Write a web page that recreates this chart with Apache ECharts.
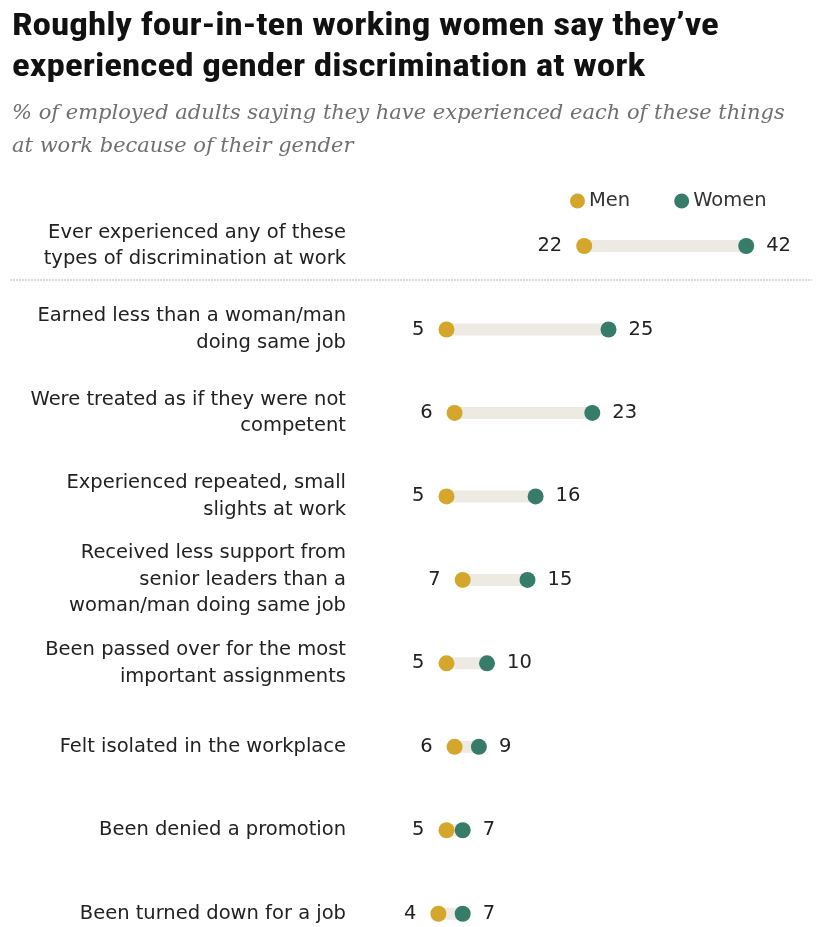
<!DOCTYPE html>
<html>
<head>
<meta charset="utf-8">
<script src="https://cdn.jsdelivr.net/npm/echarts@6/dist/echarts.min.js"></script>
<style>
  html, body { margin: 0; padding: 0; background: #ffffff; }
  #chart { width: 829px; height: 927px; }
</style>
</head>
<body>
<div id="chart"></div>
<script>
// Share of employed adults reporting each experience at work because of their gender
const categories = [
  'Ever experienced any of these\ntypes of discrimination at work',
  'Earned less than a woman/man\ndoing same job',
  'Were treated as if they were not\ncompetent',
  'Experienced repeated, small\nslights at work',
  'Received less support from\nsenior leaders than a\nwoman/man doing same job',
  'Been passed over for the most\nimportant assignments',
  'Felt isolated in the workplace',
  'Been denied a promotion',
  'Been turned down for a job'
];
const men   = [22, 5, 6, 5, 7, 5, 6, 5, 4];
const women = [42, 25, 23, 16, 15, 10, 9, 7, 7];
const seriesNames = ['Men', 'Women'];

const GOLD = '#D4A72C';
const TEAL = '#367C69';
const TRACK = '#EDEAE3';
const LABEL_FONT = '"DejaVu Sans", Verdana, sans-serif';
const LABEL_SIZE = 19.5;

const chart = echarts.init(document.getElementById('chart'), null, { renderer: 'canvas' });

const option = {
  backgroundColor: '#ffffff',
  animation: false,
  graphic: [
    {
      type: 'text', x: 12, y: 6, scaleX: 1.16,
      style: {
        text: 'Roughly four-in-ten working women say they’ve\nexperienced gender discrimination at work',
        font: 'bold 32px "Liberation Sans Narrow", "Roboto Condensed", Arial, sans-serif',
        fill: '#111', lineHeight: 41
      }
    },
    {
      type: 'text', x: 12, y: 97,
      style: {
        text: '% of employed adults saying they have experienced each of these things\nat work because of their gender',
        font: 'italic 21px "DejaVu Serif", Georgia, serif',
        fill: '#707070', lineHeight: 33
      }
    },
    {
      type: 'line',
      shape: { x1: 10, y1: 280, x2: 812, y2: 280 },
      style: { stroke: '#dcdcdc', lineWidth: 2, lineDash: [2, 1] }
    }
  ],
  legend: {
    data: seriesNames,
    left: 565, top: 186,
    icon: 'circle', itemWidth: 15, itemHeight: 15, itemGap: 44,
    textStyle: { fontSize: LABEL_SIZE, fontFamily: LABEL_FONT, color: '#333', padding: [0, 0, 0, -1] }
  },
  grid: { left: 406, right: 18, top: 246, bottom: 13, containLabel: false },
  xAxis: {
    type: 'value', min: 0, max: 50,
    show: false
  },
  yAxis: {
    type: 'category', data: categories, inverse: true, boundaryGap: false,
    axisLine: { show: false }, axisTick: { show: false }, splitLine: { show: false },
    axisLabel: {
      margin: 60, fontSize: LABEL_SIZE, lineHeight: 26.5, color: '#222',
      fontFamily: LABEL_FONT, align: 'right'
    }
  },
  series: [
    {
      name: 'track',
      type: 'custom',
      silent: true,
      z: 1,
      data: categories.map((c, i) => [men[i], women[i], i]),
      encode: { x: [0, 1], y: 2 },
      renderItem: function (params, api) {
        const a = api.coord([api.value(0), api.value(2)]);
        const b = api.coord([api.value(1), api.value(2)]);
        const h = 12;
        return {
          type: 'rect',
          shape: { x: a[0], y: a[1] - h / 2, width: b[0] - a[0], height: h },
          style: { fill: TRACK }
        };
      }
    },
    {
      name: 'Men',
      type: 'scatter',
      z: 3,
      symbolSize: 16,
      itemStyle: { color: GOLD, opacity: 1 },
      data: men.map((v, i) => [v, i]),
      label: {
        show: true, position: 'left', distance: 14,
        formatter: p => String(p.value[0]),
        fontSize: LABEL_SIZE, fontFamily: LABEL_FONT, color: '#222'
      }
    },
    {
      name: 'Women',
      type: 'scatter',
      z: 4,
      symbolSize: 16,
      itemStyle: { color: TEAL, opacity: 1 },
      data: women.map((v, i) => [v, i]),
      label: {
        show: true, position: 'right', distance: 12,
        formatter: p => String(p.value[0]),
        fontSize: LABEL_SIZE, fontFamily: LABEL_FONT, color: '#222'
      }
    }
  ]
};

chart.setOption(option);
</script>
</body>
</html>
